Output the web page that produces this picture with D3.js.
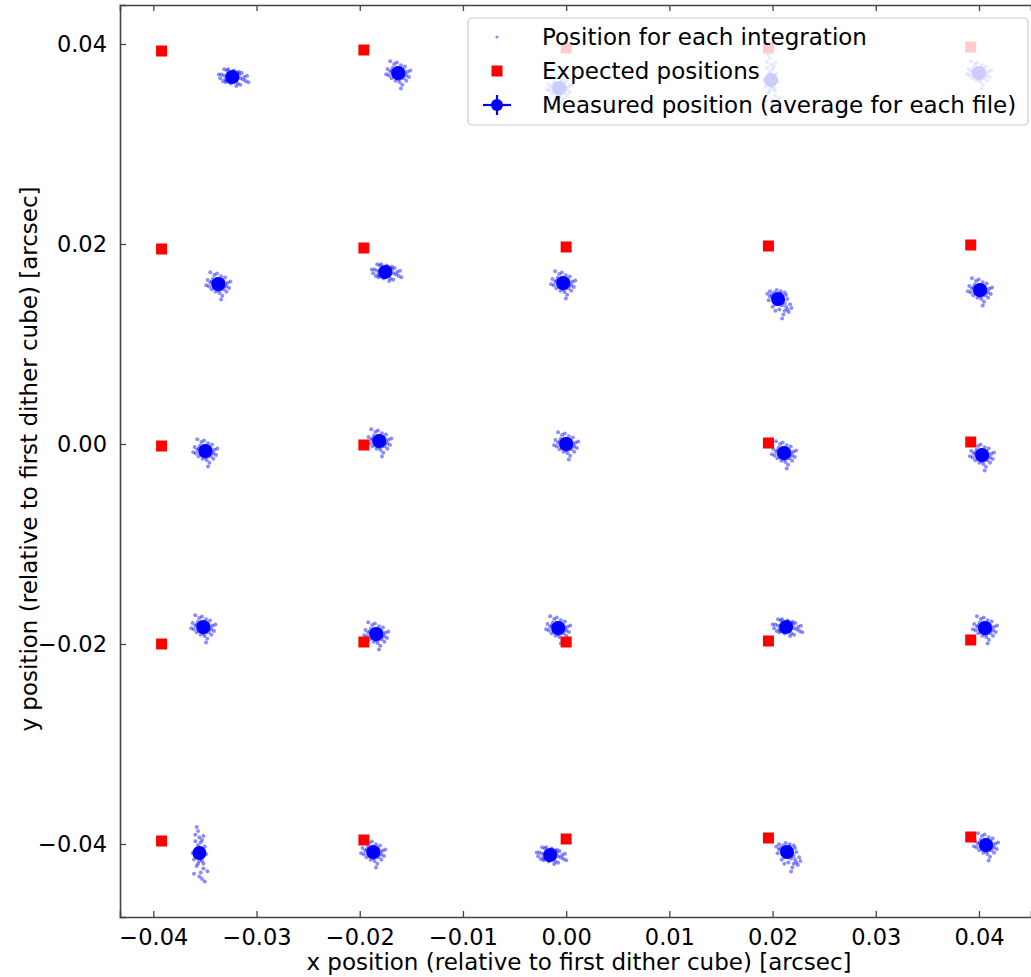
<!DOCTYPE html>
<html>
<head>
<meta charset="utf-8">
<script src="https://cdn.jsdelivr.net/npm/d3@7"></script>
<style>
  body { margin: 0; background: #fff; }
  svg { font-family: "DejaVu Sans", sans-serif; }
</style>
</head>
<body>
<div class="chart-cont"></div>
<script>
// tick values
var xTicks = [-0.04, -0.03, -0.02, -0.01, 0.00, 0.01, 0.02, 0.03, 0.04];
var yTicks = [-0.04, -0.02, 0.00, 0.02, 0.04];

// expected dither positions (red squares), row by row from the top
var expectedX = [
    -0.0392, -0.0196, 0.0000, 0.0196, 0.0392,
    -0.0392, -0.0196, 0.0000, 0.0196, 0.0392,
    -0.0392, -0.0196, 0.0000, 0.0196, 0.0392,
    -0.0392, -0.0196, 0.0000, 0.0196, 0.0392,
    -0.0392, -0.0196, 0.0000, 0.0196, 0.0392
];
var expectedY = [
    0.0393, 0.0394, 0.0396, 0.0396, 0.0397,
    0.0195, 0.0196, 0.0197, 0.0198, 0.0199,
    -0.0002, -0.0001, 0.0000, 0.0001, 0.0002,
    -0.0200, -0.0198, -0.0198, -0.0197, -0.0196,
    -0.0397, -0.0396, -0.0395, -0.0394, -0.0393
];

// measured average positions (blue circles)
var measuredX = [
    -0.03235, -0.01627, -0.00068, 0.01985, 0.04000,
    -0.03370, -0.01753, -0.00029, 0.02053, 0.04010,
    -0.03496, -0.01811, 0.00000, 0.02111, 0.04029,
    -0.03516, -0.01840, -0.00077, 0.02131, 0.04058,
    -0.03554, -0.01869, -0.00155, 0.02140, 0.04068
];
var measuredY = [
    0.0367, 0.0371, 0.0356, 0.0364, 0.0371,
    0.0160, 0.0172, 0.0161, 0.0145, 0.0154,
    -0.0007, 0.0003, 0.0000, -0.0009, -0.0011,
    -0.0183, -0.0190, -0.0184, -0.0183, -0.0184,
    -0.0409, -0.0408, -0.0411, -0.0408, -0.0401
];

// scatter of single integrations around the average, units of 1.3e-4 arcsec
var shapeRound = [
    [0,0],[2,1],[-2,1],[1,-2],[-1,-1],[3,-1],[-3,0],[0,3],[1,2],[-2,-2],
    [4,2],[-4,-1],[2,-4],[-1,4],[5,0],[-5,2],[3,3],[-3,-3],[0,-5],[6,-2],
    [-6,1],[4,-4],[-4,4],[2,6],[-2,-6],[7,1],[-7,-2],[5,5],[-5,-4],[1,-7],
    [-1,8],[8,-3],[-8,3],[6,-6],[-3,7],[3,-9],[9,2],[-9,-1],[2,-12],[-6,9],
    [1,1],[-1,2],[2,-1],[-2,-1],[0,-2],[3,1],[-3,2],[1,-3],[-1,-4],[4,-2]
];
var shapeTall = [
    [0,0],[1,2],[-1,-2],[2,-1],[-2,1],[0,4],[1,-4],[-1,6],[2,-6],[-2,3],
    [3,2],[-3,-2],[1,8],[-1,-8],[2,10],[-2,-10],[0,12],[3,-12],[-3,14],[1,-15],
    [4,5],[-4,-5],[3,-8],[-3,9],[0,-18],[2,-20],[-1,17],[5,-1],[-5,0],[1,1],
    [-1,-1],[0,2],[2,3],[-2,-3],[6,-14],[-4,-16],[4,-22],[-2,20],[3,13],[1,-3],
    [2,1],[-2,-1],[1,-2],[-1,3],[0,-6]
];
var shapeWide = [
    [0,0],[2,1],[-2,-1],[1,-1],[-1,1],[4,0],[-4,1],[3,-2],[-3,2],[5,2],
    [-5,-2],[6,-1],[-6,1],[2,4],[-2,-4],[7,3],[-7,-3],[1,5],[-1,-5],[8,-2],
    [-8,2],[4,-5],[-4,5],[9,0],[-9,-1],[5,4],[-5,-4],[10,-3],[-10,2],[3,-7],
    [-3,6],[12,-4],[1,2],[-1,-2],[0,-3],[11,1],[-6,6],[6,-6],[2,-2],[-2,2],
    [3,1],[-3,-1],[0,2],[4,3],[-4,-3]
];
var shapeTail = [
    [0,0],[1,1],[-1,-1],[2,-1],[-2,1],[3,2],[-3,-2],[0,3],[0,-3],[4,-1],
    [-4,1],[2,4],[-2,-4],[5,-3],[-5,3],[3,-5],[-3,5],[6,-6],[-6,2],[7,-8],
    [5,-9],[8,-10],[2,6],[-1,7],[7,0],[-7,-1],[4,-12],[6,3],[-4,-6],[9,-4],
    [1,-8],[-2,-9],[1,2],[-1,2],[2,-2],[-6,6],[10,-7],[3,-15],[-8,4],[5,5],
    [2,1],[-2,-2],[1,-4],[3,-3],[-3,3]
];
var integrationShapes = [shapeRound, shapeTall, shapeWide, shapeTail];
var clusterShape = [
    2, 0, 0, 1, 0,
    0, 2, 0, 3, 0,
    0, 0, 0, 0, 0,
    0, 0, 0, 2, 0,
    1, 0, 2, 3, 0
];
var scatterUnit = 1.3e-4;

var legendLabels = ["Position for each integration", "Expected positions", "Measured position (average for each file)"];
var xLabel = "x position (relative to first dither cube) [arcsec]";
var yLabel = "y position (relative to first dither cube) [arcsec]";

function drawChart() {
    var w = 1031, h = 977;
    var left = 120, top = 5, right = 1031, bottom = 917;

    var x = d3.scaleLinear().domain([-0.04323, 0.04504]).range([left, right]);
    var y = d3.scaleLinear().domain([-0.0473, 0.0439]).range([bottom, top]);

    var svg = d3.select(".chart-cont").append("svg")
        .attr("width", w)
        .attr("height", h);

    svg.append("rect").attr("width", w).attr("height", h).attr("fill", "#ffffff");

    // single integrations
    var pts = [];
    measuredX.forEach(function(mx, i) {
        integrationShapes[clusterShape[i]].forEach(function(o) {
            pts.push({x: mx + o[0] * scatterUnit, y: measuredY[i] + o[1] * scatterUnit});
        });
    });
    svg.append("g").attr("class", "integrations")
        .selectAll("circle").data(pts).enter().append("circle")
        .attr("cx", function(d) { return x(d.x); })
        .attr("cy", function(d) { return y(d.y); })
        .attr("r", 2)
        .attr("fill", "#0000ff")
        .attr("fill-opacity", 0.45);

    // expected positions
    var sq = 11;
    svg.append("g").attr("class", "expected")
        .selectAll("rect").data(expectedX).enter().append("rect")
        .attr("x", function(d) { return x(d) - sq / 2; })
        .attr("y", function(d, i) { return y(expectedY[i]) - sq / 2; })
        .attr("width", sq)
        .attr("height", sq)
        .attr("fill", "#ff0000");

    // measured averages
    svg.append("g").attr("class", "measured")
        .selectAll("circle").data(measuredX).enter().append("circle")
        .attr("cx", function(d) { return x(d); })
        .attr("cy", function(d, i) { return y(measuredY[i]); })
        .attr("r", 7)
        .attr("fill", "#0000ff");

    // axes, ticks pointing inward
    var axisColor = "#444";
    var fmt = function(d) { return d3.format(".2f")(d).replace("-", "\u2212"); };

    var xAxis = svg.append("g").attr("transform", "translate(0," + bottom + ")")
        .call(d3.axisBottom(x).tickValues(xTicks).tickSize(-6).tickPadding(12).tickFormat(fmt));
    var xAxisTop = svg.append("g").attr("transform", "translate(0," + top + ")")
        .call(d3.axisTop(x).tickValues(xTicks).tickSize(-6).tickFormat(""));
    var yAxis = svg.append("g").attr("transform", "translate(" + left + ",0)")
        .call(d3.axisLeft(y).tickValues(yTicks).tickSize(-6).tickPadding(13).tickFormat(fmt));

    [xAxis, xAxisTop, yAxis].forEach(function(a) {
        a.select(".domain").attr("stroke", axisColor).attr("stroke-width", 1.6);
        a.selectAll(".tick line").attr("stroke", axisColor).attr("stroke-width", 1.3);
        a.selectAll(".tick text")
            .attr("fill", "#000")
            .style("font-size", "22.5px")
            .style("font-family", "DejaVu Sans, sans-serif");
    });

    svg.append("text")
        .attr("x", 579)
        .attr("y", 970)
        .attr("text-anchor", "middle")
        .style("font-size", "23px")
        .text(xLabel);

    svg.append("text")
        .attr("transform", "translate(37," + 459 + ")rotate(-90)")
        .attr("text-anchor", "middle")
        .style("font-size", "23px")
        .text(yLabel);

    // legend
    var lg = svg.append("g").attr("class", "legend");
    lg.append("rect")
        .attr("x", 468).attr("y", 18)
        .attr("width", 560).attr("height", 107)
        .attr("rx", 4)
        .attr("fill", "#ffffff").attr("fill-opacity", 0.8)
        .attr("stroke", "#cccccc").attr("stroke-width", 1.2);

    var rowY = [37, 71, 105];
    lg.selectAll("text").data(legendLabels).enter().append("text")
        .attr("x", 542)
        .attr("y", function(d, i) { return rowY[i]; })
        .attr("dy", "0.35em")
        .style("font-size", "23px")
        .text(function(d) { return d; });

    lg.append("circle").attr("cx", 497).attr("cy", rowY[0]).attr("r", 1.6)
        .attr("fill", "#0000ff").attr("fill-opacity", 0.45);
    lg.append("rect").attr("x", 497 - sq / 2).attr("y", rowY[1] - sq / 2)
        .attr("width", sq).attr("height", sq).attr("fill", "#ff0000");
    lg.append("line").attr("x1", 483).attr("x2", 511).attr("y1", rowY[2]).attr("y2", rowY[2])
        .attr("stroke", "#0000ff").attr("stroke-width", 2.2);
    lg.append("line").attr("x1", 497).attr("x2", 497).attr("y1", rowY[2] - 10).attr("y2", rowY[2] + 10)
        .attr("stroke", "#0000ff").attr("stroke-width", 2.2);
    lg.append("circle").attr("cx", 497).attr("cy", rowY[2]).attr("r", 6)
        .attr("fill", "#0000ff");
}

drawChart();
</script>
</body>
</html>
